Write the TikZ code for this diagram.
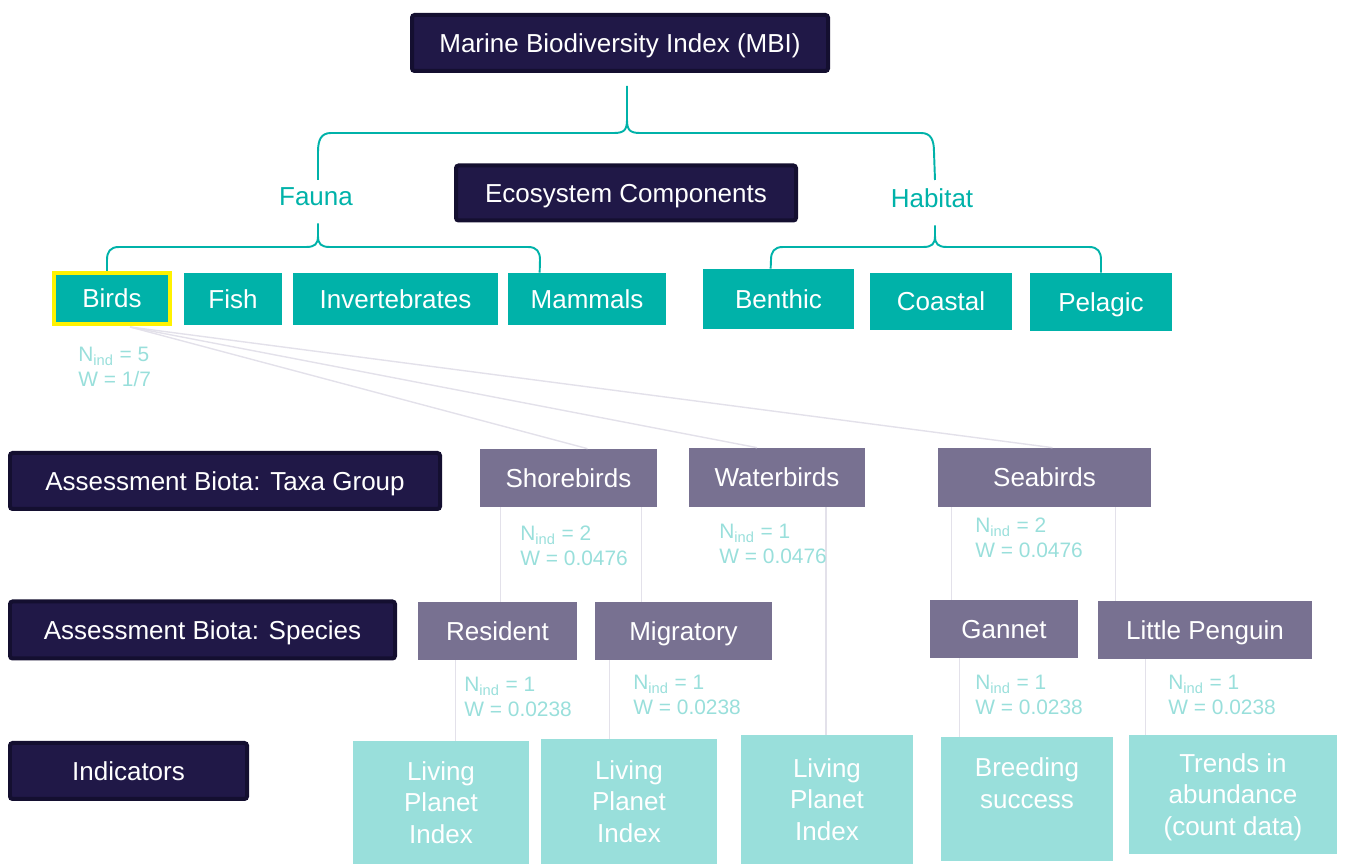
\documentclass[tikz,border=0pt]{standalone}
\usepackage{fontspec}
\setmainfont{Liberation Sans}
\usepackage{tikz}
\usetikzlibrary{calc,positioning}

\definecolor{navy}{HTML}{201847}
\definecolor{navyrim}{HTML}{140F30}
\definecolor{teal}{HTML}{00B2A9}
\definecolor{paleteal}{HTML}{99DFDB}
\definecolor{mauve}{HTML}{787191}
\definecolor{linkgrey}{HTML}{E3E1EA}

\tikzset{
  sz/.style 2 args={minimum width=#1*0.02cm, minimum height=#2*0.02cm},
  txt/.style={font=\fontsize{14.8pt}{17.9pt}\selectfont, text=white, inner sep=0pt, align=center},
  oneline/.style={text height=0.37cm, text depth=0pt},
  level/.style={txt, oneline, fill=navy, draw=navyrim, line width=0.08cm, rounded corners=1.5pt},
  comp/.style={txt, oneline, fill=teal},
  taxa/.style={txt, oneline, fill=mauve},
  ind/.style={txt, fill=paleteal},
  group/.style={font=\fontsize{14.8pt}{17.9pt}\selectfont, text=teal, inner xsep=2pt,
                inner ysep=0.16cm, text depth=0.18cm, anchor=base},
  lbl/.style={font=\fontsize{11.9pt}{14pt}\selectfont, text=paleteal, inner sep=0pt,
              align=left, anchor=north west},
  brace/.style={draw=teal, line width=1.1pt},
  link/.style={draw=linkgrey, line width=0.8pt},
}

\begin{document}
\begin{tikzpicture}[x=0.02cm,y=-0.02cm]
\useasboundingbox (0,0) rectangle (1347,864);

% levels on the left
\node[level,sz={416}{56}] (MBI) at (620,43) {Marine Biodiversity Index (MBI)};
\node[level,sz={340}{55}] (EcoComp) at (626,193) {Ecosystem Components};
\node[level,sz={430}{56}] (TaxaGroup) at (225,481) {Assessment Biota: Taxa Group};
\node[level,sz={385}{57}] (Species) at (202.5,630) {Assessment Biota: Species};
\node[level,sz={237}{56}] (Indicators) at (128.5,771) {Indicators};

% ecosystem components
\node[comp,sz={116}{51},draw=yellow,line width=0.08cm] (Birds) at (112,298.5) {Birds};
\node[comp,sz={98}{52}] (Fish) at (233,299) {Fish};
\node[comp,sz={205}{52}] (Invertebrates) at (395.5,299) {Invertebrates};
\node[comp,sz={158}{52}] (Mammals) at (587,299) {Mammals};
\node[comp,sz={151}{60}] (Benthic) at (778.5,299) {Benthic};
\node[comp,sz={142}{57}] (Coastal) at (941,301.5) {Coastal};
\node[comp,sz={142}{58}] (Pelagic) at (1101,302) {Pelagic};

\node[group] (Fauna) at (316,206) {Fauna};
\node[group] (Habitat) at (932,208) {Habitat};
\coordinate (mbiTip) at (627,86);

% braces
\draw[brace] (mbiTip) -- (627,120) .. controls (627,130) and (624,133) .. (614,133)
  -- (331,133) .. controls (321,133) and (318,140) .. (318,152) -- (318,180);
\draw[brace] (627,120) .. controls (627,130) and (630,133) .. (640,133)
  -- (921,133) .. controls (931,133) and (934,140) .. (934,152) -- (935,180);
\draw[brace] (Fauna.south -| 318,0) -- (318,236) .. controls (318,244) and (315,247) .. (306,247)
  -- (119,247) .. controls (110,247) and (107,252) .. (107,260) -- ($(Birds.north)+(-5,0)$);
\draw[brace] (318,236) .. controls (318,244) and (321,247) .. (330,247)
  -- (528,247) .. controls (537,247) and (540,252) .. (540,260) -- ($(Mammals.north west)+(32,0)$);
\draw[brace] (Habitat.south -| 935,0) -- (935,236) .. controls (935,244) and (932,247) .. (923,247)
  -- (783,247) .. controls (774,247) and (771,252) .. (771,260) -- ($(Benthic.north west)+(68,0)$);
\draw[brace] (935,236) .. controls (935,244) and (938,247) .. (947,247)
  -- (1089,247) .. controls (1098,247) and (1101,252) .. (1101,260) -- (Pelagic.north);

% taxa groups, species and indicators
\node[taxa,sz={177}{58}] (Shorebirds) at (568.5,478) {Shorebirds};
\node[taxa,sz={176}{59}] (Waterbirds) at (777,477.5) {Waterbirds};
\node[taxa,sz={213}{59}] (Seabirds) at (1044.5,477.5) {Seabirds};
\node[taxa,sz={159}{58}] (Resident) at (497.5,631) {Resident};
\node[taxa,sz={177}{58}] (Migratory) at (683.5,631) {Migratory};
\node[taxa,sz={148}{58}] (Gannet) at (1004,629) {Gannet};
\node[taxa,sz={214}{58}] (LittlePenguin) at (1205,630) {Little Penguin};

\node[ind,sz={176}{123}] (LPIres) at (441,802.5) {Living\\Planet\\Index};
\node[ind,sz={176}{125}] (LPImig) at (629,801.5) {Living\\Planet\\Index};
\node[ind,sz={172}{129}] (LPIwater) at (827,799.5) {Living\\Planet\\Index};
\node[ind,sz={172}{124},text depth=0pt] (Breeding) at (1027,799) {Breeding\\success\\\strut};
\node[ind,sz={208}{119},text depth=0pt] (Trends) at (1233,794.5) {Trends in\\abundance\\(count data)};

% links
\coordinate (birdsFoot) at (130,327);
\draw[link] (birdsFoot) -- ($(Shorebirds.north)+(19,0)$);
\draw[link] (birdsFoot) -- ($(Waterbirds.north)+(-20,0)$);
\draw[link] (birdsFoot) -- ($(Seabirds.north)+(8,0)$);
\draw[link] ($(Shorebirds.south west)+(21,0)$) coordinate (s1) -- (s1 |- Resident.north);
\draw[link] ($(Shorebirds.south east)+(-16,0)$) coordinate (s2) -- (s2 |- Migratory.north);
\draw[link] ($(Waterbirds.south)+(49,0)$) coordinate (w1) -- (w1 |- LPIwater.north);
\draw[link] ($(Seabirds.south west)+(14,0)$) coordinate (b1) -- (b1 |- Gannet.north);
\draw[link] ($(Seabirds.south east)+(-36,0)$) coordinate (b2) -- (b2 |- LittlePenguin.north);
\draw[link] ($(Resident.south west)+(38,0)$) coordinate (r1) -- (r1 |- LPIres.north);
\draw[link] ($(Migratory.south west)+(15,0)$) coordinate (m1) -- (m1 |- LPImig.north);
\draw[link] ($(Gannet.south west)+(30,0)$) coordinate (g1) -- (g1 |- Breeding.north);
\draw[link] ($(LittlePenguin.south west)+(48,0)$) coordinate (p1) -- (p1 |- Trends.north);

% counts and weights
\node[lbl] (wBirds) at (78,347) {N\textsubscript{ind} = 5\\W = 1/7};
\node[lbl] (wShore) at (520,526) {N\textsubscript{ind} = 2\\W = 0.0476};
\node[lbl] (wWater) at (719,524) {N\textsubscript{ind} = 1\\W = 0.0476};
\node[lbl] (wSea) at (975,518) {N\textsubscript{ind} = 2\\W = 0.0476};
\node[lbl] (wRes) at (464,677) {N\textsubscript{ind} = 1\\W = 0.0238};
\node[lbl] (wMig) at (633,675) {N\textsubscript{ind} = 1\\W = 0.0238};
\node[lbl] (wGan) at (975,675) {N\textsubscript{ind} = 1\\W = 0.0238};
\node[lbl] (wPen) at (1168,675) {N\textsubscript{ind} = 1\\W = 0.0238};
\end{tikzpicture}
\end{document}
